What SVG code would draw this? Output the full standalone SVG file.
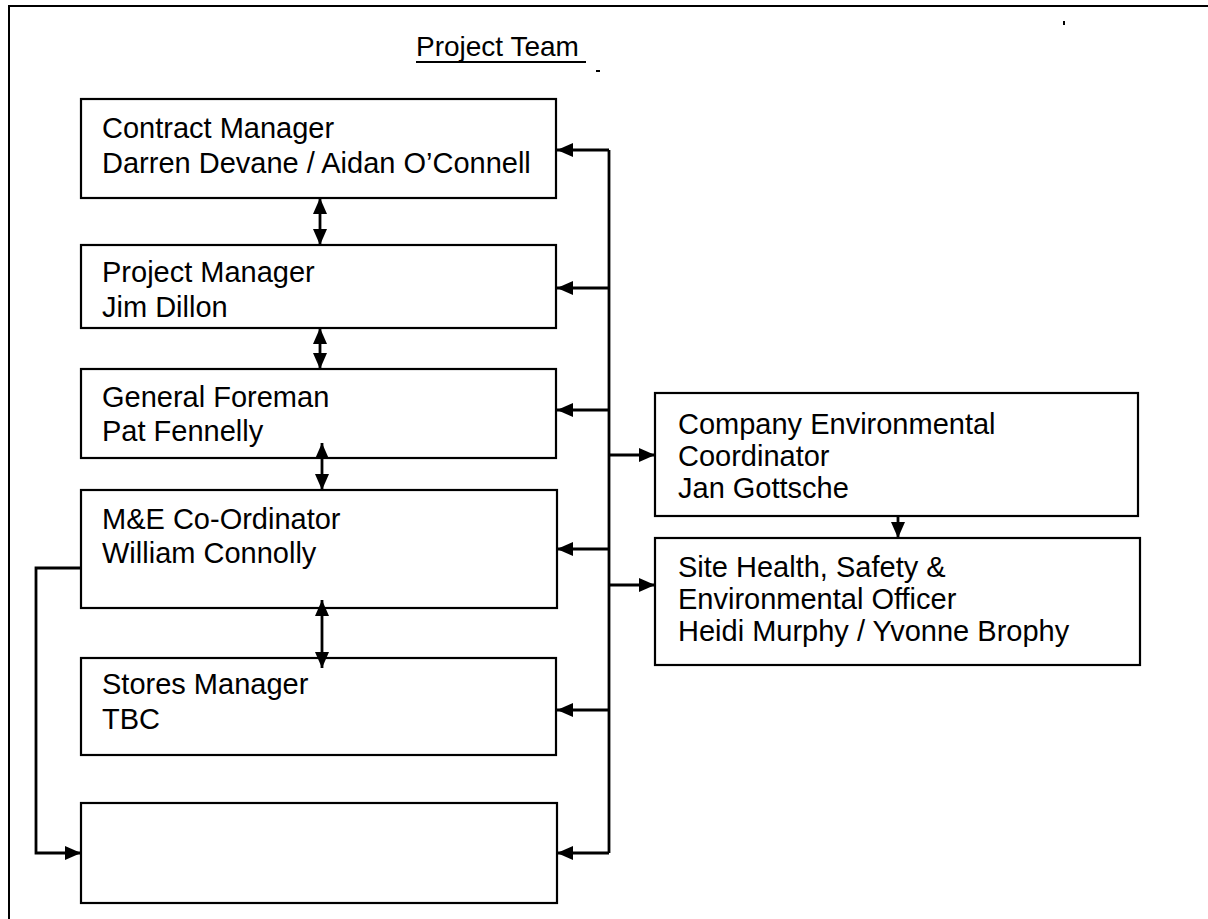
<svg xmlns="http://www.w3.org/2000/svg" width="1208" height="919" viewBox="0 0 1208 919">
  <style>
    .box { fill: #ffffff; stroke: #000000; stroke-width: 2.2; }
    .t { font-family: "Liberation Sans", Arial, sans-serif; font-size: 29px; fill: #000000; }
    .tt { font-family: "Liberation Sans", Arial, sans-serif; font-size: 28px; fill: #000000; }
    .c { fill: none; stroke: #000000; stroke-width: 2.8; }
    .frame { fill: none; stroke: #000000; stroke-width: 2; }
  </style>
  <defs>
    <marker id="ah" viewBox="0 0 16 14" refX="16" refY="7" markerWidth="16" markerHeight="14" markerUnits="userSpaceOnUse" orient="auto-start-reverse">
      <path d="M0,0 L16,7 L0,14 Z" fill="#000000"/>
    </marker>
  </defs>
  <rect width="1208" height="919" fill="#ffffff"/>

  <!-- frame -->
  <path class="frame" d="M9,919 V6 H1208"/>
  <rect x="596" y="70" width="4" height="2" fill="#000"/>
  <rect x="1063" y="21" width="2" height="4" fill="#000"/>

  <!-- title -->
  <g id="title">
    <text class="tt" x="416" y="56">Project Team</text>
    <line x1="416" y1="62" x2="586" y2="62" stroke="#000" stroke-width="2"/>
  </g>

  <g id="contract-manager">
    <rect class="box" x="81" y="99" width="475" height="99"/>
    <text class="t" x="102" y="138">Contract Manager</text>
    <text class="t" x="102" y="173">Darren Devane / Aidan O’Connell</text>
  </g>
  <g id="project-manager">
    <rect class="box" x="81" y="245" width="475" height="83"/>
    <text class="t" x="102" y="282">Project Manager</text>
    <text class="t" x="102" y="317">Jim Dillon</text>
  </g>
  <g id="general-foreman">
    <rect class="box" x="81" y="369" width="475" height="89"/>
    <text class="t" x="102" y="407">General Foreman</text>
    <text class="t" x="102" y="441">Pat Fennelly</text>
  </g>
  <g id="me-coordinator">
    <rect class="box" x="81" y="490" width="476" height="118"/>
    <text class="t" x="102" y="529">M&amp;E Co-Ordinator</text>
    <text class="t" x="102" y="563">William Connolly</text>
  </g>
  <g id="stores-manager">
    <rect class="box" x="81" y="658" width="475" height="97"/>
    <text class="t" x="102" y="694">Stores Manager</text>
    <text class="t" x="102" y="729">TBC</text>
  </g>
  <g id="empty-box">
    <rect class="box" x="81" y="803" width="476" height="100"/>
  </g>
  <g id="company-env-coordinator">
    <rect class="box" x="655" y="393" width="483" height="123"/>
    <text class="t" x="678" y="434">Company Environmental</text>
    <text class="t" x="678" y="466">Coordinator</text>
    <text class="t" x="678" y="498">Jan Gottsche</text>
  </g>
  <g id="site-hse-officer">
    <rect class="box" x="655" y="538" width="485" height="127"/>
    <text class="t" x="678" y="577">Site Health, Safety &amp;</text>
    <text class="t" x="678" y="609">Environmental Officer</text>
    <text class="t" x="678" y="641">Heidi Murphy / Yvonne Brophy</text>
  </g>

  <!-- connectors -->
  <g id="connectors">
    <path class="c" d="M609,150 V853"/>
    <path class="c" d="M609,150 H557" marker-end="url(#ah)"/>
    <path class="c" d="M609,288 H557" marker-end="url(#ah)"/>
    <path class="c" d="M609,410 H557" marker-end="url(#ah)"/>
    <path class="c" d="M609,549 H557" marker-end="url(#ah)"/>
    <path class="c" d="M609,710 H557" marker-end="url(#ah)"/>
    <path class="c" d="M609,853 H557" marker-end="url(#ah)"/>
    <path class="c" d="M609,455 H655" marker-end="url(#ah)"/>
    <path class="c" d="M609,585 H655" marker-end="url(#ah)"/>
    <path class="c" d="M898,516 V538" marker-end="url(#ah)"/>
    <path class="c" d="M320,198 V245" marker-start="url(#ah)" marker-end="url(#ah)"/>
    <path class="c" d="M320,328 V369" marker-start="url(#ah)" marker-end="url(#ah)"/>
    <path class="c" d="M322,443 V490" marker-start="url(#ah)" marker-end="url(#ah)"/>
    <path class="c" d="M322,600 V668" marker-start="url(#ah)" marker-end="url(#ah)"/>
    <path class="c" d="M81,568 H36 V853 H81" marker-end="url(#ah)"/>
  </g>
</svg>
